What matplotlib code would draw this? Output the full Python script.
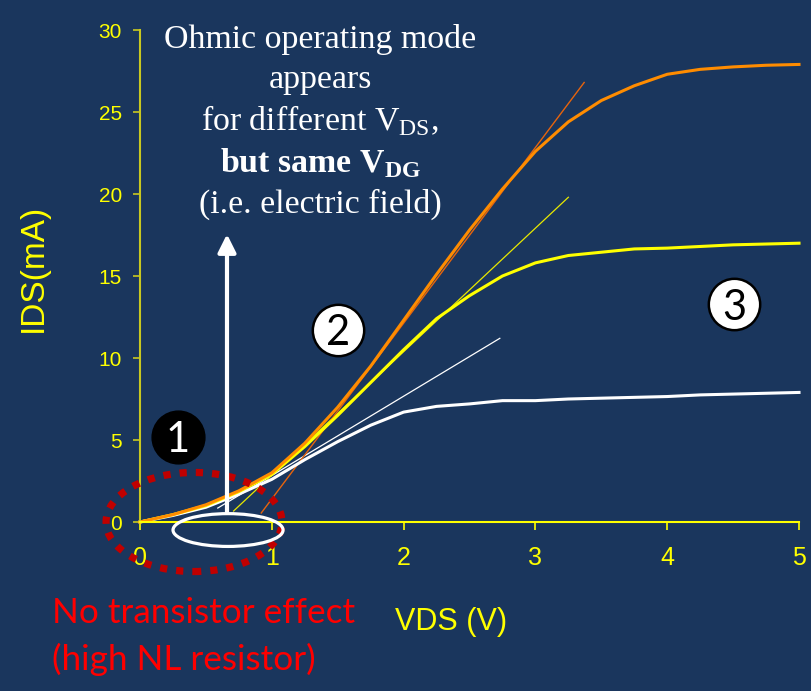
import matplotlib
matplotlib.use('Agg')
import matplotlib.pyplot as plt
from matplotlib.patches import Ellipse

# drain current (mA) against drain voltage (V), three gate settings
vds = [0, 0.25, 0.5, 0.75, 1.0, 1.25, 1.5, 1.75, 2.0, 2.25, 2.5,
       2.75, 3.0, 3.25, 3.5, 3.75, 4.0, 4.25, 4.5, 4.75, 5.0]
ids_low = [0, 0.4, 0.9, 1.7, 2.6, 3.8, 4.9, 5.9, 6.7, 7.05, 7.2,
           7.4, 7.4, 7.5, 7.55, 7.6, 7.65, 7.75, 7.8, 7.85, 7.9]
ids_mid = [0, 0.45, 1.0, 1.85, 2.9, 4.6, 6.5, 8.5, 10.5, 12.4, 13.8,
           15.0, 15.8, 16.25, 16.45, 16.65, 16.7, 16.8, 16.9, 16.95, 17.0]
ids_high = [0, 0.45, 1.05, 1.9, 3.0, 4.8, 7.0, 9.5, 12.3, 15.1, 17.8,
            20.3, 22.6, 24.4, 25.7, 26.6, 27.3, 27.6, 27.75, 27.85, 27.9]

# ohmic-slope tangents
low_tan_x, low_tan_y = [0.59, 2.73], [0.85, 11.2]
mid_tan_x, mid_tan_y = [0.71, 3.25], [0.67, 19.8]
high_tan_x, high_tan_y = [0.92, 3.37], [0.55, 26.8]

x_ticks = [0, 1, 2, 3, 4, 5]
y_ticks = [0, 5, 10, 15, 20, 25, 30]

bg = '#1A365D'
yellow = '#FFFF00'

plt.rcParams['mathtext.fontset'] = 'custom'
plt.rcParams['mathtext.rm'] = 'Liberation Serif'
plt.rcParams['mathtext.bf'] = 'Liberation Serif:bold'

fig = plt.figure(figsize=(8.12, 6.91), dpi=100, facecolor=bg)
ax = fig.add_axes([140 / 812, 1 - 522 / 691, 659 / 812, 492 / 691])
ax.set_facecolor(bg)
ax.set_xlim(0, 5)
ax.set_ylim(0, 30)

for s in ['top', 'right']:
    ax.spines[s].set_visible(False)
ax.spines['bottom'].set_color(yellow)
ax.spines['bottom'].set_linewidth(1.5)
ax.spines['left'].set_color('#C8C820')
ax.spines['left'].set_linewidth(1.5)

ax.set_xticks(x_ticks)
ax.set_yticks(y_ticks)
ax.tick_params(axis='x', colors=yellow, length=6, width=1.2, pad=11,
               labelsize=18)
ax.tick_params(axis='y', colors='#C8C820', labelcolor=yellow, length=5,
               width=1.2, pad=8, labelsize=15)
for lab in ax.get_xticklabels() + ax.get_yticklabels():
    lab.set_fontfamily('Liberation Sans')

# curves and tangents
ax.plot(low_tan_x, low_tan_y, color='white', lw=0.9)
ax.plot(mid_tan_x, mid_tan_y, color='#E8E800', lw=0.9)
ax.plot(high_tan_x, high_tan_y, color='#E8640C', lw=1.0)
ax.plot(vds, ids_low, color='white', lw=2.2, clip_on=False)
ax.plot(vds, ids_mid, color=yellow, lw=2.2, clip_on=False)
ax.plot(vds, ids_high, color='#FF8C00', lw=2.2, clip_on=False)

# region 1 markings
ax.add_patch(Ellipse((0.41, 0.0), 1.335, 6.04, fill=False, ec='#C00000',
                     lw=5.2, ls=(0, (1, 1.25)), capstyle='butt',
                     clip_on=False, zorder=5))
ax.add_patch(Ellipse((0.668, -0.49), 0.835, 2.0, fill=False, ec='white',
                     lw=2.3, clip_on=False, zorder=6))
ax.annotate('', xy=(0.66, 17.55), xytext=(0.66, 0.6),
            arrowprops=dict(arrowstyle='-|>', color='white', lw=3,
                            mutation_scale=27, shrinkA=0, shrinkB=0),
            zorder=6)

# numbered regions
ax.plot([0.288], [5.2], 'o', ms=38, mfc='black', mec='black',
        clip_on=False, zorder=7)
ax.text(0.288, 5.2, '1', color='white', fontsize=30, family='Lato',
        ha='center', va='center_baseline', zorder=8)
for (cx, cy, lab) in [(1.502, 11.71, '2'), (4.507, 13.29, '3')]:
    ax.plot([cx], [cy], 'o', ms=37, mfc='white', mec='black', mew=1.8,
            zorder=7)
    ax.text(cx, cy, lab, color='black', fontsize=30, family='Lato',
            ha='center', va='center_baseline', zorder=8)

# axis titles
fig.text(33 / 812, 1 - 268 / 691, 'IDS(mA)', rotation=90, color=yellow,
         fontsize=24, family='Liberation Sans', ha='center', va='center')
fig.text(451 / 812, 1 - 622 / 691, 'VDS (V)', color=yellow, fontsize=22,
         family='Liberation Sans', ha='center', va='center')

# ohmic note
note_lines = ['Ohmic operating mode', 'appears',
              r'for different V$_{\mathrm{DS}}$,',
              r'but same V$_{\mathbf{DG}}$', '(i.e. electric field)']
note_base = [48, 88, 130, 172, 213]
for line, py in zip(note_lines, note_base):
    fig.text(320 / 812, 1 - py / 691, line, color='white', fontsize=24.4,
             family='Liberation Serif', ha='center', va='baseline',
             weight='bold' if line.startswith('but') else 'normal')

# region 1 caption
fig.text(52 / 812, 1 - 623 / 691, 'No transistor effect', color='#FF0000',
         fontsize=25.3, family='Lato', va='baseline')
fig.text(52 / 812, 1 - 670 / 691, '(high NL resistor)', color='#FF0000',
         fontsize=25.3, family='Lato', va='baseline')

fig.savefig('out.png', dpi=100, facecolor=bg)
